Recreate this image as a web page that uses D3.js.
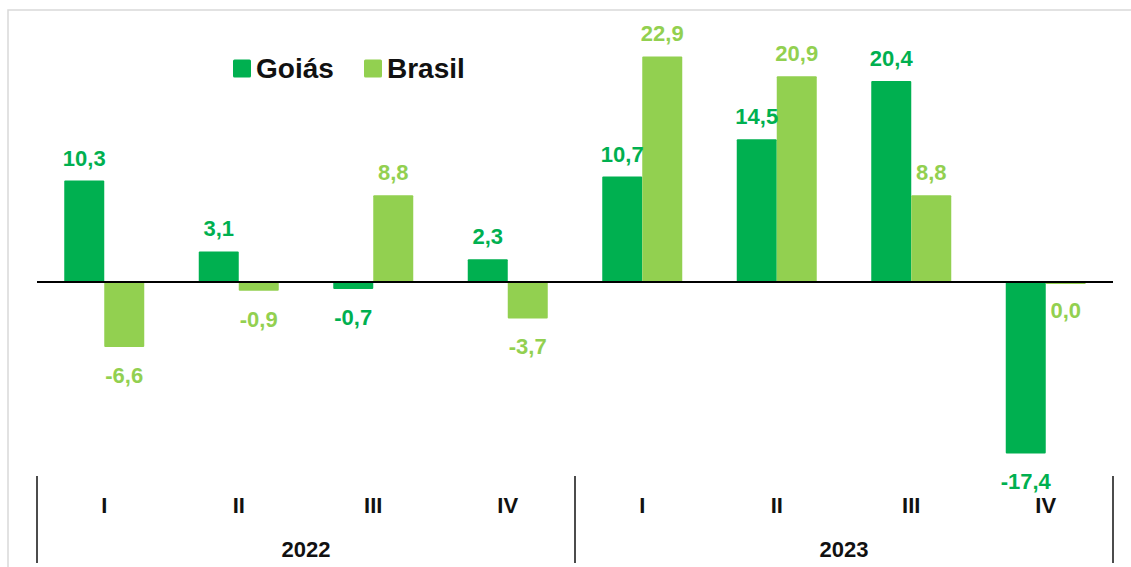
<!DOCTYPE html>
<html>
<head>
<meta charset="utf-8">
<script src="https://d3js.org/d3.v7.min.js"></script>
<style>
  body { margin: 0; background: #fff; }
  svg { display: block; font-family: "Liberation Sans", Arial, sans-serif; }
</style>
</head>
<body>
<div id="chart"></div>
<script>
// data
var quarters = ["I", "II", "III", "IV", "I", "II", "III", "IV"];
var years = ["2022", "2023"];
var seriesNames = ["Goiás", "Brasil"];
var goias = [10.3, 3.1, -0.7, 2.3, 10.7, 14.5, 20.4, -17.4];
var brasil = [-6.6, -0.9, 8.8, -3.7, 22.9, 20.9, 8.8, 0.0];

var colors = { "Goiás": "#00b050", "Brasil": "#92d050" };

var W = 1131, H = 567;
var svg = d3.select("#chart").append("svg")
    .attr("width", W).attr("height", H);

// light frame round the chart
svg.append("rect")
    .attr("x", 8).attr("y", 10)
    .attr("width", W + 20).attr("height", H + 20)
    .attr("fill", "none")
    .attr("stroke", "#d9d9d9")
    .attr("stroke-width", 1.5);

var rows = quarters.map(function (q, i) {
    return { idx: i, q: q, "Goiás": goias[i], "Brasil": brasil[i] };
});

var x = d3.scaleBand().domain(d3.range(quarters.length)).range([37, 1113]).padding(0);
var barW = 40;
var xs = d3.scaleBand().domain(seriesNames).range([0, barW * 2]);
var y = d3.scaleLinear().domain([-20, 25]).range([479, 35.75]);

// comma decimals, plain hyphen for negatives
var fmt = function (v) { return v.toFixed(1).replace(".", ","); };

var groups = svg.selectAll("g.cat").data(rows).enter().append("g")
    .attr("class", "cat")
    .attr("transform", function (d) {
        return "translate(" + (x(d.idx) + x.bandwidth() / 2 - barW) + ",0)";
    });

groups.selectAll("rect").data(function (d) {
    return seriesNames.map(function (s) { return { s: s, v: d[s] }; });
}).enter().append("rect")
    .attr("x", function (d) { return xs(d.s); })
    .attr("width", xs.bandwidth())
    .attr("y", function (d) { return Math.min(y(d.v), y(0)); })
    .attr("height", function (d) { return Math.max(2, Math.abs(y(d.v) - y(0))); })
    .attr("rx", 1)
    .attr("fill", function (d) { return colors[d.s]; });

groups.selectAll("text.val").data(function (d) {
    return seriesNames.map(function (s) { return { s: s, v: d[s] }; });
}).enter().append("text")
    .attr("class", "val")
    .attr("x", function (d) { return xs(d.s) + xs.bandwidth() / 2; })
    .attr("y", function (d) { return d.v > 0 ? y(d.v) - 15 : y(d.v) + 36; })
    .attr("text-anchor", "middle")
    .attr("font-size", 22)
    .attr("font-weight", "bold")
    .attr("fill", function (d) { return colors[d.s]; })
    .text(function (d) { return fmt(d.v); });

// zero line
svg.append("line")
    .attr("x1", 37).attr("x2", 1113)
    .attr("y1", y(0)).attr("y2", y(0))
    .attr("stroke", "#000").attr("stroke-width", 2);

// quarter labels
svg.selectAll("text.q").data(rows).enter().append("text")
    .attr("class", "q")
    .attr("x", function (d) { return x(d.idx) + x.bandwidth() / 2; })
    .attr("y", 513)
    .attr("text-anchor", "middle")
    .attr("font-size", 22)
    .attr("font-weight", "bold")
    .attr("fill", "#111")
    .text(function (d) { return d.q; });

// year labels and separators
years.forEach(function (yr, i) {
    var x0 = x(i * 4), x1 = x(i * 4 + 3) + x.bandwidth();
    svg.append("text")
        .attr("x", (x0 + x1) / 2).attr("y", 557)
        .attr("text-anchor", "middle")
        .attr("font-size", 22)
        .attr("font-weight", "bold")
        .attr("fill", "#111")
        .text(yr);
});
[0, 4, 8].forEach(function (i) {
    var xx = i < quarters.length ? x(i) : x(i - 1) + x.bandwidth();
    svg.append("line")
        .attr("x1", xx).attr("x2", xx)
        .attr("y1", 476).attr("y2", 563)
        .attr("stroke", "#111").attr("stroke-width", 1.5);
});

// legend
var legendX = [233, 364];
seriesNames.forEach(function (s, i) {
    svg.append("rect")
        .attr("x", legendX[i]).attr("y", 59.5)
        .attr("width", 18).attr("height", 18)
        .attr("rx", 1.5)
        .attr("fill", colors[s]);
    svg.append("text")
        .attr("x", legendX[i] + 23).attr("y", 78)
        .attr("font-size", 28)
        .attr("font-weight", "bold")
        .attr("fill", "#111")
        .text(s);
});
</script>
</body>
</html>
